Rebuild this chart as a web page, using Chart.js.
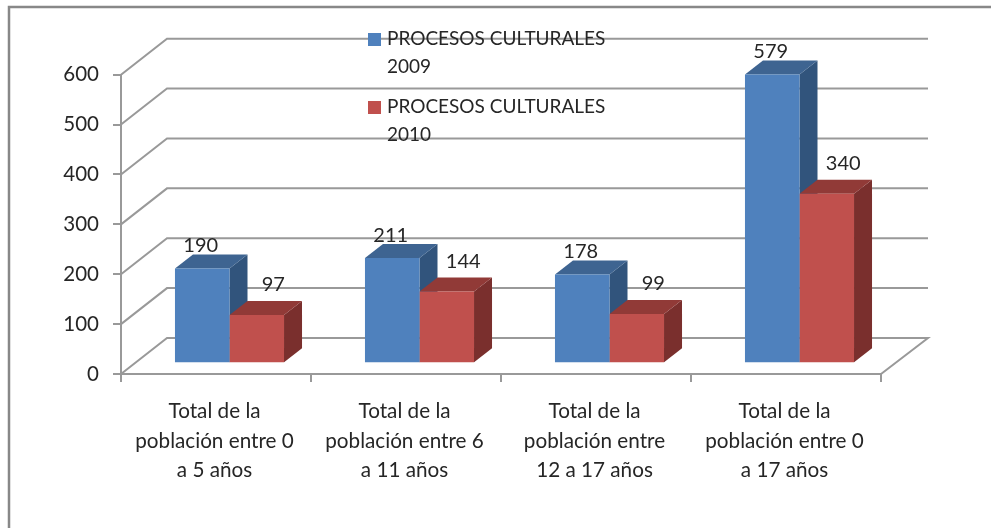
<!DOCTYPE html>
<html>
<head>
<meta charset="utf-8">
<title>Procesos culturales</title>
<script src="https://cdn.jsdelivr.net/npm/chart.js@4"></script>
<style>
  html, body { margin: 0; padding: 0; background: #fff; overflow: hidden; }
  canvas { display: block; filter: blur(0.45px); }
</style>
</head>
<body>
<canvas id="chart" width="991" height="528"></canvas>
<script>
const categories = [
  ['Total de la', 'población entre 0', 'a 5 años'],
  ['Total de la', 'población entre 6', 'a 11 años'],
  ['Total de la', 'población entre', '12 a 17 años'],
  ['Total de la', 'población entre 0', 'a 17 años']
];
const values2009 = [190, 211, 178, 579];
const values2010 = [97, 144, 99, 340];
const legend2009 = ['PROCESOS CULTURALES', '2009'];
const legend2010 = ['PROCESOS CULTURALES', '2010'];

const GRID = '#999999';
const TEXT = '#262626';
const FONT = 'Lato, sans-serif';
const WALL = { dx: 46, dy: -36 };     // depth of the box
const BAR_SHIFT = { dx: 13.5, dy: -10.7 };
const BAR_DEPTH = { dx: 18, dy: -14 };
const FACES = [
  { top: '#3e6491', side: '#31547c' },
  { top: '#913a37', side: '#7a2f2d' }
];

function poly(ctx, pts, color) {
  ctx.fillStyle = color;
  ctx.beginPath();
  pts.forEach((p, i) => i ? ctx.lineTo(p[0], p[1]) : ctx.moveTo(p[0], p[1]));
  ctx.closePath();
  ctx.fill();
}

// Back wall grid, floor and the box sides of every bar
const box3d = {
  id: 'box3d',
  beforeDatasetsDraw(chart) {
    const { ctx, scales: { y }, chartArea: { left, right } } = chart;
    ctx.save();
    ctx.strokeStyle = GRID;
    ctx.lineWidth = 2;
    y.ticks.forEach(t => {
      const py = y.getPixelForValue(t.value);
      ctx.beginPath();
      ctx.moveTo(left, py);
      ctx.lineTo(left + WALL.dx, py + WALL.dy);
      ctx.lineTo(right + WALL.dx + 1, py + WALL.dy);
      if (t.value === 0) ctx.lineTo(right, py);
      ctx.stroke();
    });
    ctx.restore();

    // stays translated until afterDatasetsDraw so the library bars land in the box
    ctx.save();
    ctx.translate(BAR_SHIFT.dx, BAR_SHIFT.dy);
    chart.data.datasets.forEach((ds, i) => {
      chart.getDatasetMeta(i).data.forEach(bar => {
        const x0 = bar.x - bar.width / 2, x1 = bar.x + bar.width / 2;
        const d = BAR_DEPTH;
        poly(ctx, [[x1, bar.y], [x1 + d.dx, bar.y + d.dy], [x1 + d.dx, bar.base + d.dy], [x1, bar.base]], FACES[i].side);
        poly(ctx, [[x0, bar.y], [x0 + d.dx, bar.y + d.dy], [x1 + d.dx, bar.y + d.dy], [x1, bar.y]], FACES[i].top);
      });
    });
  },
  afterDatasetsDraw(chart) {
    chart.ctx.restore();
  }
};

// Value labels, legend on top of the grid, and the frame of the picture
const overlay = {
  id: 'overlay',
  afterDraw(chart) {
    const { ctx } = chart;
    ctx.save();
    ctx.fillStyle = TEXT;
    ctx.font = '20px ' + FONT;
    ctx.textAlign = 'center';
    ctx.textBaseline = 'middle';
    const offsets = [{ dx: 12, dy: -33.5 }, { dx: 30, dy: -41 }];
    chart.data.datasets.forEach((ds, i) => {
      chart.getDatasetMeta(i).data.forEach((bar, j) => {
        ctx.fillText(ds.data[j], bar.x + offsets[i].dx, bar.y + offsets[i].dy);
      });
    });

    const legendY = [39, 107];
    ctx.font = '19px ' + FONT;
    ctx.textAlign = 'left';
    chart.data.datasets.forEach((ds, i) => {
      ctx.fillStyle = ds.backgroundColor;
      ctx.fillRect(368, legendY[i] - 6, 13, 13);
      ctx.fillStyle = TEXT;
      ds.label.forEach((line, k) => ctx.fillText(line, 387, legendY[i] + k * 28));
    });

    ctx.strokeStyle = '#888888';
    ctx.lineWidth = 2.5;
    ctx.beginPath();
    ctx.moveTo(9, 528);
    ctx.lineTo(9, 7);
    ctx.lineTo(991, 7);
    ctx.stroke();
    ctx.restore();
  }
};

new Chart(document.getElementById('chart'), {
  type: 'bar',
  data: {
    labels: categories,
    datasets: [
      { label: legend2009, data: values2009, backgroundColor: '#4f81bd', clip: false },
      { label: legend2010, data: values2010, backgroundColor: '#c0504d', clip: false }
    ]
  },
  options: {
    responsive: false,
    animation: false,
    layout: { padding: { top: 74.7, right: 110, bottom: 0, left: 0 } },
    datasets: { bar: { barPercentage: 1, categoryPercentage: 0.574, borderWidth: 0 } },
    plugins: { legend: { display: false }, tooltip: { enabled: false } },
    scales: {
      x: {
        afterFit: s => { s.height = 154; },
        border: { color: GRID, width: 2 },
        grid: { drawOnChartArea: false, color: GRID, lineWidth: 2, tickLength: 8 },
        ticks: {
          color: TEXT, padding: 15, maxRotation: 0, autoSkip: false, labelOffset: -1.5,
          font: { family: FONT, size: 20.7, lineHeight: 29.5 / 20.7 }
        }
      },
      y: {
        min: 0, max: 600,
        afterFit: s => { s.width = 121; },
        border: { color: GRID, width: 2 },
        grid: { drawOnChartArea: false, color: GRID, lineWidth: 2, tickLength: 8 },
        ticks: { stepSize: 100, color: TEXT, padding: 14, font: { family: FONT, size: 20.5 } }
      }
    }
  },
  plugins: [box3d, overlay]
});
</script>
</body>
</html>
